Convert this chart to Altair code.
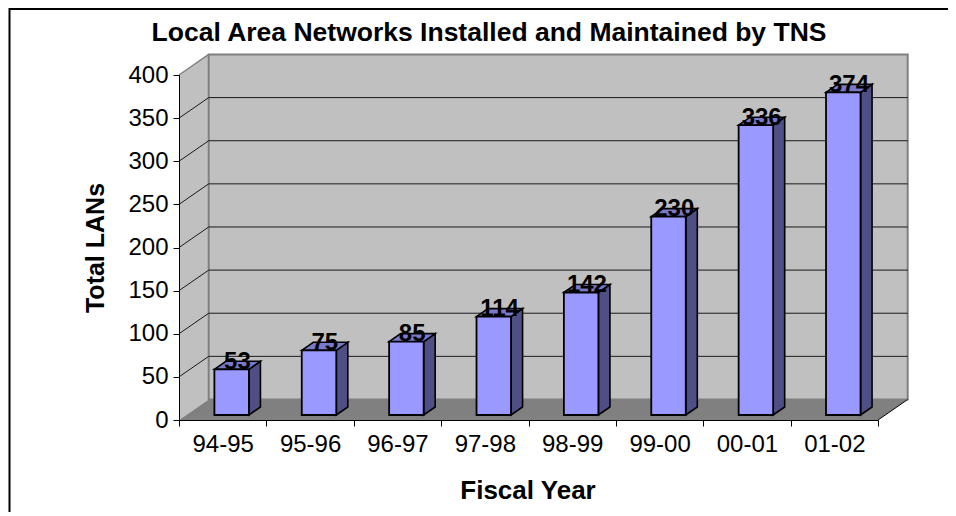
import altair as alt
import pandas as pd

categories = ["94-95", "95-96", "96-97", "97-98", "98-99", "99-00", "00-01", "01-02"]
values = [53, 75, 85, 114, 142, 230, 336, 374]
y_ticks = [0, 50, 100, 150, 200, 250, 300, 350, 400]
grid_values = [50, 100, 150, 200, 250, 300, 350]
title_text = "Local Area Networks Installed and Maintained by TNS"

FONT = "Liberation Sans"
DX, DY = 0.34, 23.8          # depth of the chart box, in data units
BL, BR = 0.405, 0.80         # bar front within its slot
BDX, BDY = 0.132, 9.3        # bar depth
BASE = 5.8                   # bar base above the front axis
N = len(categories)

xs = alt.Scale(domain=[0, N], nice=False, zero=False)
ys = alt.Scale(domain=[0, 400], nice=False)
X = lambda f="x": alt.X(f"{f}:Q", scale=xs)
Y = lambda f="y": alt.Y(f"{f}:Q", scale=ys)

# axes ----------------------------------------------------------------
label_list = ",".join(f"'{c}'" for c in categories) + ",''"
axes = alt.Chart(pd.DataFrame({"x": [0, N], "y": [0, 400]})).mark_point(opacity=0).encode(
    x=alt.X("x:Q", scale=xs, title="Fiscal Year", axis=alt.Axis(
        values=list(range(N + 1)), labelExpr=f"[{label_list}][datum.value]", labelOffset=43.7,
        labelFont=FONT, labelFontSize=24, labelColor="black", labelPadding=6,
        labelFlush=False, labelOverlap=False, tickColor="black", tickSize=6, domainColor="black",
        grid=False, zindex=1,
        titleFont=FONT, titleFontSize=26, titleFontWeight="bold", titleColor="black",
        titleX=348.5, titleY=78, titleBaseline="alphabetic")),
    y=alt.Y("y:Q", scale=ys, title="Total LANs", axis=alt.Axis(
        values=y_ticks, labelFont=FONT, labelFontSize=24, labelColor="black", labelPadding=5,
        labelOverlap=False, tickColor="black", tickSize=6, domainColor="black", grid=False, zindex=1,
        titleFont=FONT, titleFontSize=25, titleFontWeight="bold", titleColor="black",
        titleX=-76, titleY=172.5, titleBaseline="alphabetic")),
)

# box -----------------------------------------------------------------
left_wall = alt.Chart(pd.DataFrame({"x": [0, DX], "y": [400, 400 + DY], "y2": [0, DY]})).mark_area(
    color="#c0c0c0", line=False
).encode(x=X(), y=Y(), y2="y2:Q")

back_wall = alt.Chart(pd.DataFrame({"x": [DX], "x2": [N + DX], "y": [DY], "y2": [400 + DY]})).mark_rect(
    fill="#c0c0c0", stroke="#808080", strokeWidth=2
).encode(x=X(), x2="x2:Q", y=Y(), y2="y2:Q")

top_edge = alt.Chart(pd.DataFrame({"x": [0], "x2": [DX], "y": [400], "y2": [400 + DY]})).mark_rule(
    color="#808080", strokeWidth=1.5
).encode(x=X(), x2="x2:Q", y=Y(), y2="y2:Q")

floor = alt.Chart(pd.DataFrame({"x": [0, DX, N, N + DX], "y": [0, DY, DY, DY], "y2": [0, 0, 0, DY]})).mark_area(
    color="#808080", line=False
).encode(x=X(), y=Y(), y2="y2:Q")

floor_edge = alt.Chart(pd.DataFrame({"x": [N], "x2": [N + DX], "y": [0], "y2": [DY]})).mark_rule(
    color="black", strokeWidth=1
).encode(x=X(), x2="x2:Q", y=Y(), y2="y2:Q")

grid_df = pd.DataFrame({"v": grid_values})
grid_df["yb"] = grid_df["v"] + DY
grid_df["x0"] = DX
grid_df["x1"] = N + DX
grid_df["x00"] = 0
grid_back = alt.Chart(grid_df).mark_rule(color="#1a1a1a", strokeWidth=1).encode(
    x=X("x0"), x2="x1:Q", y=Y("yb"))
grid_side = alt.Chart(grid_df).mark_rule(color="#1a1a1a", strokeWidth=1).encode(
    x=X("x00"), x2="x0:Q", y=Y("v"), y2="yb:Q")

# bars ----------------------------------------------------------------
front_rows, side_rows, top_rows = [], [], []
for i, (c, v) in enumerate(zip(categories, values)):
    l, r = i + BL, i + BR
    t = v + BASE
    front_rows.append({"c": c, "x": l, "x2": r, "y": BASE, "y2": t})
    side_rows += [{"c": c, "x": r, "y": t, "y2": BASE},
                  {"c": c, "x": r + BDX, "y": t + BDY, "y2": BASE + BDY}]
    top_rows += [{"c": c, "x": l, "y": t, "y2": t},
                 {"c": c, "x": l + BDX, "y": t + BDY, "y2": t},
                 {"c": c, "x": r, "y": t + BDY, "y2": t},
                 {"c": c, "x": r + BDX, "y": t + BDY, "y2": t + BDY}]

bar_side = alt.Chart(pd.DataFrame(side_rows)).mark_area(
    color="#4f4f85", stroke="black", strokeWidth=1.6, line=False
).encode(x=X(), y=Y(), y2="y2:Q", detail="c:N")
bar_top = alt.Chart(pd.DataFrame(top_rows)).mark_area(
    color="#7a7acc", stroke="black", strokeWidth=1.6, line=False
).encode(x=X(), y=Y(), y2="y2:Q", detail="c:N")
bar_front = alt.Chart(pd.DataFrame(front_rows)).mark_rect(
    fill="#9999ff", stroke="black", strokeWidth=1.8
).encode(x=X(), x2="x2:Q", y=Y(), y2="y2:Q")

label_df = pd.DataFrame({"x": [i + (BL + BR + BDX) / 2 for i in range(N)],
                         "y": [v + BASE for v in values],
                         "t": [str(v) for v in values]})
labels = alt.Chart(label_df).mark_text(
    font=FONT, fontSize=24, fontWeight="bold", color="black", baseline="alphabetic", dy=-0.5
).encode(x=X(), y=Y(), text="t:N")

# chart title as a text mark, placed in the frame above the plot box
title_mark = alt.Chart(pd.DataFrame({"t": [title_text]})).mark_text(
    font=FONT, fontSize=26.5, fontWeight="bold", color="black", baseline="alphabetic", align="center"
).encode(x=alt.value(310), y=alt.value(-34), text="t:N")

# outer frame ---------------------------------------------------------
frame_top = alt.Chart(pd.DataFrame({"a": [0]})).mark_rule(color="black", strokeWidth=2).encode(
    x=alt.value(-170), x2=alt.value(769), y=alt.value(-66))
frame_left = alt.Chart(pd.DataFrame({"a": [0]})).mark_rule(color="black", strokeWidth=2).encode(
    x=alt.value(-169.5), y=alt.value(-67), y2=alt.value(437))

chart = alt.layer(
    axes, left_wall, back_wall, top_edge, floor, floor_edge, grid_back, grid_side,
    bar_side, bar_top, bar_front, labels, title_mark, frame_top, frame_left,
).properties(
    width=699, height=345,
    autosize=alt.AutoSizeParams(type="none"),
    padding={"left": 171, "top": 67, "right": 70, "bottom": 92},
    background="white",
).configure_view(stroke=None)

chart.save("out.html", embed_options={"renderer": "svg", "actions": False})
